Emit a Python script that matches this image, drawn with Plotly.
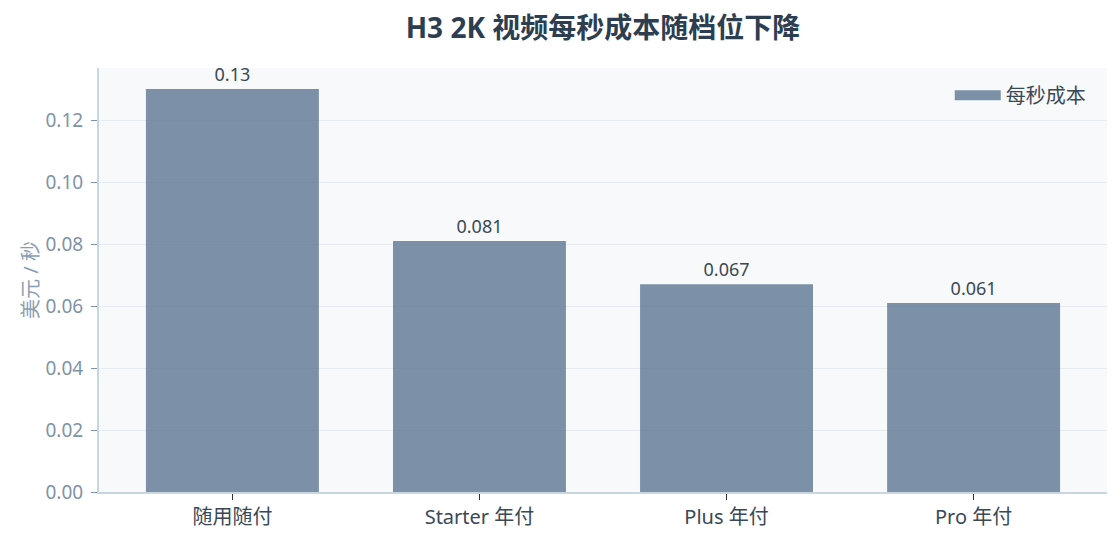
import plotly.graph_objects as go

categories = ["随用随付", "Starter 年付", "Plus 年付", "Pro 年付"]
cost_per_sec = [0.13, 0.081, 0.067, 0.061]
value_labels = ["0.13", "0.081", "0.067", "0.061"]

FONT = "Noto Sans, Noto Sans CJK SC, sans-serif"
BAR = "#5c7792"

fig = go.Figure()
fig.add_trace(go.Bar(
    x=categories,
    y=cost_per_sec,
    name="每秒成本",
    text=value_labels,
    textposition="outside",
    textfont=dict(size=18, color="#3b4856"),
    marker=dict(color=BAR, opacity=0.8, line=dict(width=0)),
    width=0.7,
    cliponaxis=False,
    showlegend=False,
))
# legend entry drawn as a wide swatch
fig.add_trace(go.Scatter(
    x=[None], y=[None], mode="lines", name="每秒成本",
    line=dict(color=BAR, width=13), opacity=0.8,
))

fig.update_layout(
    width=1112,
    height=535,
    margin=dict(l=91, r=13, t=60, b=51),
    paper_bgcolor="white",
    plot_bgcolor="#f7f9fb",
    font=dict(family=FONT, color="#3b4856"),
    title=dict(
        text="<b>H3 2K 视频每秒成本随档位下降</b>",
        x=0.5, xref="paper", y=0.9626, yref="container",
        xanchor="center", yanchor="middle",
        font=dict(size=28, color="#2c3e50"),
    ),
    legend=dict(
        x=0.844, y=0.936, xanchor="left", yanchor="middle",
        bgcolor="rgba(0,0,0,0)",
        itemwidth=46,
        font=dict(size=20, color="#3b4856"),
    ),
)

fig.update_xaxes(
    range=[-0.54, 3.54],
    showline=True, linecolor="#c9d6e1", linewidth=2,
    ticks="outside", tickcolor="#333333", ticklen=6,
    tickfont=dict(size=20, color="#3b4856"),
    showgrid=False,
)
fig.update_yaxes(
    range=[0, 0.1368],
    dtick=0.02, tickformat=".2f",
    showline=True, linecolor="#c9d6e1", linewidth=2,
    ticks="outside", tickcolor="#7f93a8", ticklen=6,
    ticklabelstandoff=4,
    tickfont=dict(size=19, color="#7f93a8"),
    gridcolor="#e8ecf0", gridwidth=1,
    zeroline=False,
    title=dict(text="美元 / 秒", font=dict(size=20, color="#8a9db0"), standoff=1),
)

fig.write_html("out.html")
